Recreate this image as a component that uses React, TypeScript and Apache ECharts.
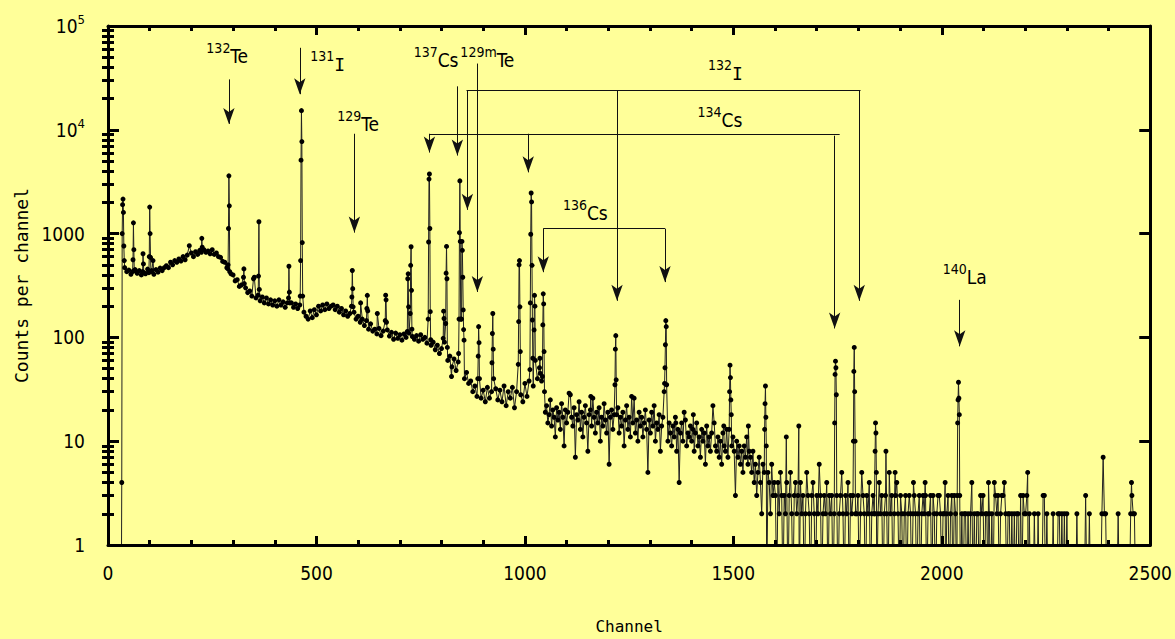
import React, { useEffect, useRef } from "react";
import * as echarts from "echarts";

// ---- data: counts per channel ----
// continuum A: channels 40..1035, every 5 channels
const A_START = 40;
const A_STEP = 5;
const contA = [
  470, 430, 445, 405, 425, 450, 415, 440, 400, 430, 410, 455, 420, 440, 405, 450, 425, 465, 440, 470,
  490, 470, 530, 500, 550, 530, 570, 545, 600, 560, 620, 580, 650, 600, 670, 630, 690, 650, 700, 660,
  680, 640, 700, 630, 650, 600, 590, 540, 530, 470, 460, 410, 400, 350, 360, 310, 320, 290, 300, 270,
  280, 250, 270, 240, 255, 225, 245, 215, 240, 210, 230, 205, 225, 200, 230, 205, 220, 195, 215, 200,
  215, 195, 210, 190, 205, 200, 175, 160, 150, 180, 155, 185, 165, 200, 180, 205, 185, 210, 190, 200,
  205, 185, 200, 175, 190, 165, 180, 160, 170, 165, 175, 150, 160, 140, 150, 130, 145, 120, 135, 115,
  120, 108, 122, 104, 115, 100, 118, 103, 112, 96, 110, 98, 106, 94, 108, 100, 104, 92, 102, 96,
  104, 92, 106, 96, 100, 88, 96, 84, 90, 76, 84, 70, 78, 64, 72, 60, 66, 52, 62, 48,
  58, 46, 52, 40, 46, 36, 38, 30, 34, 27, 33, 26, 31, 24, 33, 26, 30, 23, 32, 25,
  31, 24, 34, 22, 30, 26, 33, 21, 30, 35, 28, 24, 36, 27, 38, 30, 34, 29, 40, 33,
];
// continuum B: channels 1040..1538, every 3 channels
const B_START = 1040;
const B_STEP = 3;
const contB = [
  38, 30, 24, 19, 22, 15, 18, 25, 14, 20, 17, 11, 21, 16, 19, 13, 23, 17, 9, 20,
  15, 19, 12, 28, 17, 14, 21, 7, 18, 16, 24, 13, 19, 11, 17, 22, 15, 8, 18, 20,
  14, 26, 17, 12, 19, 15, 21, 10, 17, 14, 23, 16, 12, 19, 6, 17, 20, 13, 18, 15,
  16, 21, 12, 17, 14, 19, 9, 16, 22, 13, 17, 11, 18, 15, 26, 12, 16, 10, 19, 14,
  17, 11, 15, 20, 13, 5, 16, 12, 19, 14, 22, 10, 15, 13, 18, 8, 14, 17, 12, 16,
  13, 10, 15, 12, 9, 14, 11, 17, 8, 13, 4, 12, 15, 10, 13, 16, 9, 12, 11, 14,
  10, 13, 8, 12, 15, 9, 11, 7, 13, 10, 12, 6, 14, 9, 11, 8, 12, 10, 15, 9,
  8, 11, 7, 10, 6, 12, 9, 8, 13, 7, 10, 5, 9, 11, 8, 3, 10, 7, 9, 6,
  8, 5, 9, 7, 11, 6, 8,
];
// continuum C: channels 1541..2471, every 3 channels
const C_START = 1541;
const C_STEP = 3;
const contC = [
  7, 5, 8, 4, 6, 3, 5, 7, 4, 2, 6, 5, 3, 0, 5, 4, 2, 6, 3, 4,
  3, 0, 4, 2, 5, 3, 0, 3, 2, 4, 0, 3, 5, 2, 0, 3, 4, 2, 3, 0,
  4, 2, 3, 0, 2, 5, 3, 2, 0, 3, 4, 2, 0, 3, 2, 6, 3, 0, 2, 3,
  2, 4, 0, 3, 2, 3, 0, 2, 4, 3, 0, 2, 3, 5, 2, 0, 3, 2, 4, 0,
  3, 2, 0, 3, 4, 2, 3, 0, 2, 5, 3, 2, 0, 3, 2, 4, 0, 2, 3, 2,
  3, 0, 2, 4, 2, 3, 0, 2, 3, 2, 0, 5, 2, 3, 0, 2, 3, 4, 2, 0,
  3, 2, 0, 2, 3, 0, 2, 3, 2, 0, 2, 3, 2, 0, 2, 3, 0, 2, 3, 2,
  3, 0, 2, 2, 3, 0, 3, 2, 0, 2, 3, 3, 2, 0, 2, 2, 0, 2, 3, 0,
  2, 3, 0, 3, 2, 0, 2, 2, 0, 2, 0, 2, 2, 0, 2, 0, 2, 2, 0, 2,
  0, 2, 2, 0, 3, 2, 3, 0, 2, 2, 0, 2, 0, 2, 0, 2, 3, 2, 3, 0,
  2, 3, 3, 0, 2, 0, 2, 2, 0, 2, 0, 2, 0, 2, 2, 0, 3, 0, 3, 2,
  2, 3, 0, 2, 0, 0, 0, 2, 0, 0, 2, 0, 0, 0, 3, 0, 0, 2, 0, 0,
  0, 0, 2, 0, 0, 0, 2, 2, 0, 2, 0, 2, 0, 2, 0, 0, 0, 0, 0, 0,
  0, 2, 0, 0, 0, 0, 0, 0, 2, 0, 0, 2, 0, 0, 0, 0, 0, 0, 0, 0,
  0, 2, 3, 2, 2, 0, 0, 0, 0, 0, 0, 0, 0, 0, 2, 0, 0, 0, 0, 0,
  0, 0, 0, 0, 2, 3, 2, 2, 0, 0, 0,
];

// peaks: groups of [channel, counts]
const peaks: [number, number][][] = [
  [[32, 0], [33, 4], [34, 1000], [35, 1900], [36, 2150], [37, 1600], [38, 760], [39, 550]],
  [[59, 430], [60, 560], [61, 1270], [62, 700], [63, 440]],
  [[83, 430], [84, 640], [85, 510], [86, 420]],
  [[98, 420], [99, 600], [100, 1800], [101, 1000], [102, 590], [103, 430]],
  [[108, 550]],
  [[195, 765]],
  [[224, 660], [225, 900], [226, 740]],
  [[287, 460], [288, 500], [289, 1120], [290, 3600], [291, 1850], [292, 430]],
  [[325, 380], [326, 457], [327, 330]],
  [[349, 367], [351, 380]],
  [[361, 390], [362, 1300], [363, 290]],
  [[433, 240], [434, 485], [435, 273], [436, 215]],
  [[461, 250], [462, 550], [463, 5100], [464, 15300], [465, 7700], [466, 820], [467, 250]],
  [[584, 200], [585, 245], [586, 441], [587, 295], [588, 197]],
  [[606, 215]],
  [[621, 190], [622, 254], [623, 180]],
  [[646, 170]],
  [[665, 145], [666, 255], [667, 230], [668, 140]],
  [[718, 114], [719, 367], [720, 410], [721, 197], [722, 110]],
  [[725, 170], [726, 495], [727, 747], [728, 284], [729, 120]],
  [[768, 150], [769, 830], [770, 3350], [771, 3750], [772, 1120], [773, 177], [774, 95]],
  [[804, 98], [805, 179], [806, 152], [807, 90]],
  [[810, 136], [811, 416], [812, 752], [813, 367], [814, 80]],
  [[824, 42]],
  [[841, 70], [842, 150], [843, 1020], [844, 3220], [845, 840], [846, 150], [848, 150], [849, 840], [850, 690], [851, 380], [852, 184], [853, 119], [854, 94]],
  [[887, 40], [888, 66], [889, 127], [890, 89], [891, 40]],
  [[921, 57], [922, 109], [923, 170], [924, 77], [925, 40]],
  [[984, 55], [985, 142], [986, 500], [987, 550], [988, 197], [989, 73]],
  [[1012, 49], [1013, 215], [1014, 985], [1015, 2460], [1016, 2020], [1017, 495], [1018, 147], [1019, 63]],
  [[1022, 118], [1023, 254], [1024, 200], [1025, 60]],
  [[1035, 51], [1036, 63], [1037, 45]],
  [[1042, 42], [1043, 132], [1044, 263], [1045, 210], [1046, 73], [1047, 30]],
  [[1106, 29]],
  [[1158, 27]],
  [[1216, 35], [1217, 77], [1218, 104], [1219, 39], [1220, 18]],
  [[1256, 27]],
  [[1310, 22]],
  [[1334, 30], [1335, 36], [1336, 51], [1337, 85], [1338, 145], [1339, 127], [1340, 35]],
  [[1362, 15]],
  [[1382, 19]],
  [[1404, 18]],
  [[1451, 22]],
  [[1477, 14]],
  [[1490, 13], [1491, 30], [1492, 54], [1493, 41], [1494, 25], [1495, 18], [1496, 9]],
  [[1536, 14]],
  [[1575, 13], [1576, 23], [1577, 34], [1578, 17], [1579, 9]],
  [[1627, 11]],
  [[1657, 14]],
  [[1743, 15], [1744, 44], [1745, 59], [1746, 51], [1747, 28], [1748, 3]],
  [[1787, 3], [1788, 10], [1789, 47], [1790, 80], [1791, 30], [1792, 10], [1793, 2]],
  [[1839, 2], [1840, 8], [1841, 15], [1842, 12], [1843, 5]],
  [[1866, 8]],
  [[1888, 5]],
  [[1932, 4]],
  [[1960, 4]],
  [[2008, 4]],
  [[2037, 3], [2038, 15], [2039, 25], [2040, 37], [2041, 26], [2042, 18], [2043, 3]],
  [[2072, 4]],
  [[2112, 4]],
  [[2126, 4]],
  [[2150, 4]],
  [[2206, 5]],
  [[2246, 3]],
  [[2345, 3]],
  [[2387, 7]],
  [[2455, 4]],
];

// annotations (data coordinates): [channel, from counts, to counts]
const arrows: [number, number, number][] = [
  [290, 30600, 11400],
  [460, 61660, 22030],
  [591, 9160, 1022],
  [838, 26230, 5650],
  [886, 43470, 274],
  [862, 24080, 1693],
  [1221, 24080, 225],
  [1802, 24080, 225],
  [771, 9160, 6040],
  [1008, 9160, 3890],
  [1743, 8770, 122],
  [1044, 1116, 425],
  [1336, 1116, 341],
  [2043, 230, 82],
];
const brackets: [number, number, number][] = [
  [860, 1805, 24080],
  [771, 1755, 9160],
  [1044, 1336, 1116],
];
const tags: [string, string, number, number][] = [
  ["132", "Te", 286, 51260],
  ["131", "I", 527, 42990],
  ["129", "Te", 600, 11280],
  ["137", "Cs", 787, 47430],
  ["129m", "Te", 910, 46910],
  ["132", "I", 1481, 34920],
  ["134", "Cs", 1468, 12310],
  ["136", "Cs", 1145, 1585],
  ["140", "La", 2055, 381],
];
const yMinorTicks = [
  2, 3, 4, 5, 6, 7, 8, 9, 20, 30, 40, 50, 60, 70, 80, 90, 200, 300, 400, 500, 600, 700, 800, 900,
  2000, 3000, 4000, 5000, 6000, 7000, 8000, 9000, 20000, 30000, 40000, 50000, 60000, 70000, 80000, 90000,
];

const BG = "#FFFF99";
const NARROW = "'Liberation Sans Narrow', 'DejaVu Sans Condensed', 'Liberation Sans', sans-serif";
const MONO = "'DejaVu Sans Mono', 'Liberation Mono', monospace";

function buildPoints(): [number, number][] {
  const ranges = peaks.map((g) => [g[0][0], g[g.length - 1][0]]);
  const pts: [number, number][] = [];
  const addSeg = (vals: number[], start: number, step: number) => {
    vals.forEach((v, i) => {
      const ch = start + step * i;
      if (!ranges.some(([a, b]) => ch >= a && ch <= b)) pts.push([ch, v]);
    });
  };
  addSeg(contA, A_START, A_STEP);
  addSeg(contB, B_START, B_STEP);
  addSeg(contC, C_START, C_STEP);
  peaks.forEach((g) => g.forEach((p) => pts.push([p[0], p[1]])));
  pts.sort((a, b) => a[0] - b[0]);
  return pts.map(([c, v]) => [c, v === 0 ? 0.3 : v]);
}

export default function App() {
  const ref = useRef<HTMLDivElement>(null);
  useEffect(() => {
    document.body.style.margin = "0";
    document.body.style.background = BG;
    const chart = echarts.init(ref.current!, null, { renderer: "svg" });
    const axisLine = { show: true, onZero: false, lineStyle: { color: "#000", width: 3 } };
    const xTick = { show: true, inside: true, length: 9, lineStyle: { color: "#000", width: 3 } };
    const xMinor = { show: true, splitNumber: 5, length: 5, lineStyle: { color: "#000", width: 3 } };
    const yMajorTick = { show: true, inside: true, length: 11, lineStyle: { color: "#000", width: 3 } };
    const yMinorTick = {
      show: true,
      inside: true,
      length: 6,
      customValues: yMinorTicks,
      lineStyle: { color: "#000", width: 3 },
    };
    const logBase = { type: "log", logBase: 10, min: 1, max: 100000, splitLine: { show: false } };

    const markLineData: any[] = [];
    arrows.forEach(([ch, y0, y1]) => {
      markLineData.push([
        { coord: [ch, y0], symbol: "none" },
        { coord: [ch, y1], symbol: "arrow" },
      ]);
    });
    brackets.forEach(([a, b, y]) => {
      markLineData.push([
        { coord: [a, y], symbol: "none" },
        { coord: [b, y], symbol: "none" },
      ]);
    });

    const option: any = {
      animation: false,
      backgroundColor: BG,
      grid: { left: 108, right: 23, top: 26, bottom: 88, show: false },
      xAxis: [
        {
          type: "value",
          min: 0,
          max: 2500,
          interval: 500,
          position: "bottom",
          z: 10,
          axisLine,
          axisTick: xTick,
          minorTick: xMinor,
          splitLine: { show: false },
          axisLabel: {
            margin: 18,
            fontSize: 19,
            color: "#000",
            fontFamily: NARROW,
            formatter: (v: number) => String(v),
          },
          name: "Channel",
          nameLocation: "middle",
          nameGap: 73,
          nameTextStyle: { fontFamily: MONO, fontSize: 16, color: "#000" },
        },
        {
          type: "value",
          min: 0,
          max: 2500,
          interval: 500,
          position: "top",
          z: 10,
          axisLine,
          axisTick: xTick,
          minorTick: xMinor,
          splitLine: { show: false },
          axisLabel: { show: false },
        },
      ],
      yAxis: [
        {
          ...logBase,
          position: "left",
          z: 10,
          axisLine,
          axisTick: yMajorTick,
          axisLabel: {
            margin: 23,
            fontSize: 19,
            color: "#000",
            fontFamily: NARROW,
            formatter: (v: number) =>
              v >= 10000 ? `{b|10}{s|${Math.round(Math.log10(v))}}` : `{b|${v}}`,
            rich: {
              b: { fontSize: 19, fontFamily: NARROW, color: "#000", lineHeight: 26 },
              s: { fontSize: 13, fontFamily: NARROW, color: "#000", verticalAlign: "top", lineHeight: 13 },
            },
          },
          name: "Counts per channel",
          nameLocation: "middle",
          nameGap: 74,
          nameRotate: 90,
          nameTextStyle: { fontFamily: MONO, fontSize: 18, color: "#000" },
        },
        {
          ...logBase,
          position: "left",
          z: 10,
          axisLine: { show: false },
          axisTick: yMinorTick,
          axisLabel: { show: false },
        },
        {
          ...logBase,
          position: "right",
          z: 10,
          axisLine,
          axisTick: yMajorTick,
          axisLabel: { show: false },
        },
        {
          ...logBase,
          position: "right",
          z: 10,
          axisLine: { show: false },
          axisTick: yMinorTick,
          axisLabel: { show: false },
        },
      ],
      series: [
        {
          type: "line",
          xAxisIndex: 0,
          yAxisIndex: 0,
          data: buildPoints(),
          symbol: "circle",
          symbolSize: 5,
          showSymbol: true,
          clip: true,
          silent: true,
          itemStyle: { color: "#000" },
          lineStyle: { color: "#222", width: 1 },
          markLine: {
            silent: true,
            symbolSize: [8.5, 16],
            label: { show: false },
            lineStyle: { color: "#111", width: 1, type: "solid" },
            emphasis: { disabled: true },
            data: markLineData,
          },
          markPoint: {
            silent: true,
            symbol: "circle",
            symbolSize: 1,
            itemStyle: { color: "rgba(0,0,0,0)" },
            label: {
              show: true,
              position: "inside",
              color: "#000",
              rich: {
                s: { fontSize: 14, fontFamily: NARROW, color: "#000", verticalAlign: "top", lineHeight: 14 },
                m: { fontSize: 19, fontFamily: NARROW, color: "#000", lineHeight: 30 },
                i: { fontSize: 18, fontFamily: MONO, color: "#000", lineHeight: 30 },
              },
            },
            data: tags.map(([sup, main, ch, y]) => ({
              coord: [ch, y],
              value: 0,
              label: { formatter: `{s|${sup}}{${main === "I" ? "i" : "m"}|${main}}` },
            })),
          },
        },
      ],
    };
    chart.setOption(option);
    return () => chart.dispose();
  }, []);
  return <div ref={ref} style={{ width: 1175, height: 639 }} />;
}
